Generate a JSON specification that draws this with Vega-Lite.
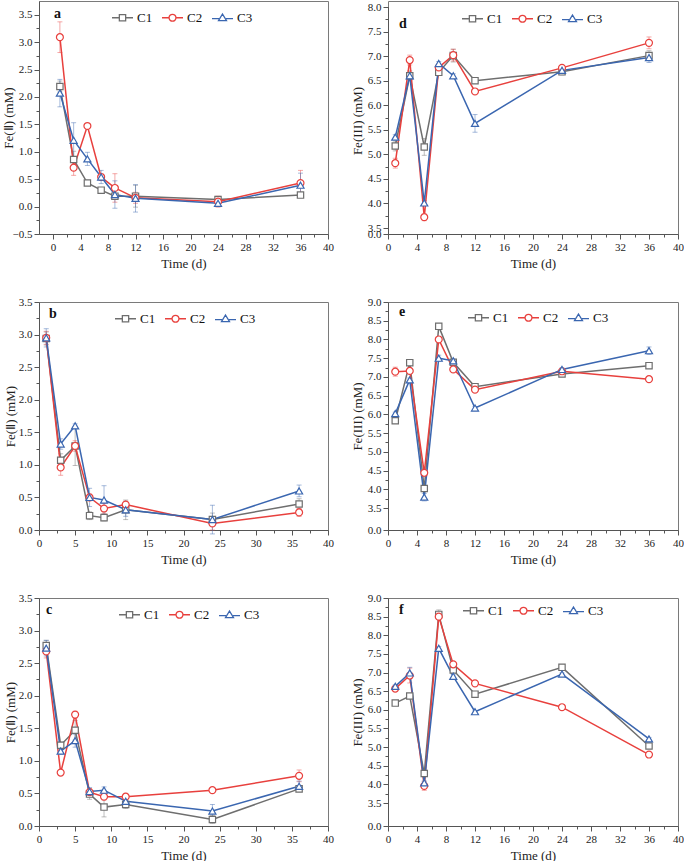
{
  "$schema": "https://vega.github.io/schema/vega-lite/v6.json",
  "padding": {"left": 1, "top": 0, "right": 0, "bottom": 0},
  "config": {
    "font": "Liberation Serif",
    "view": {"stroke": "#7a7a7a", "strokeWidth": 1},
    "axis": {
      "grid": false, "labelFont": "Liberation Serif", "labelFontSize": 11, "labelColor": "#222",
      "titleFont": "Liberation Serif", "titleFontSize": 13, "titleFontWeight": "normal", "titleColor": "#222",
      "domainColor": "#555", "tickColor": "#555", "labelFlush": false, "labelOverlap": false, "labelPadding": 2
    },
    "axisX": {"titlePadding": 5},
    "legend": {
      "orient": "none", "direction": "horizontal", "symbolSize": 441, "symbolStrokeWidth": 1.3,
      "labelFont": "Liberation Serif", "labelFontSize": 13, "labelColor": "#111", "labelOffset": 3,
      "columnPadding": 6, "padding": 0, "symbolFillColor": "white", "symbolOpacity": 1
    },
    "title": {"font": "Liberation Serif", "fontSize": 14, "fontWeight": "bold", "color": "#111", "anchor": "start", "frame": "group", "baseline": "alphabetic"}
  },
  "datasets": {
    "fe": [
      {"p":"a","s":"C1","t":1,"v":2.19,"e":0.1},{"p":"a","s":"C1","t":3,"v":0.86,"e":0.15},{"p":"a","s":"C1","t":5,"v":0.43,"e":0.04},{"p":"a","s":"C1","t":7,"v":0.30,"e":0.02},{"p":"a","s":"C1","t":9,"v":0.19,"e":0.05},{"p":"a","s":"C1","t":12,"v":0.19,"e":0.2},{"p":"a","s":"C1","t":24,"v":0.13,"e":0.05},{"p":"a","s":"C1","t":36,"v":0.21,"e":0.02},
      {"p":"a","s":"C2","t":1,"v":3.09,"e":0.28},{"p":"a","s":"C2","t":3,"v":0.71,"e":0.14},{"p":"a","s":"C2","t":5,"v":1.47,"e":0.03},{"p":"a","s":"C2","t":7,"v":0.54,"e":0.05},{"p":"a","s":"C2","t":9,"v":0.34,"e":0.26},{"p":"a","s":"C2","t":12,"v":0.16,"e":0.1},{"p":"a","s":"C2","t":24,"v":0.09,"e":0.1},{"p":"a","s":"C2","t":36,"v":0.43,"e":0.23},
      {"p":"a","s":"C3","t":1,"v":2.07,"e":0.25},{"p":"a","s":"C3","t":3,"v":1.21,"e":0.32},{"p":"a","s":"C3","t":5,"v":0.87,"e":0.12},{"p":"a","s":"C3","t":7,"v":0.54,"e":0.12},{"p":"a","s":"C3","t":9,"v":0.22,"e":0.25},{"p":"a","s":"C3","t":12,"v":0.15,"e":0.25},{"p":"a","s":"C3","t":24,"v":0.06,"e":0.05},{"p":"a","s":"C3","t":36,"v":0.39,"e":0.22},

      {"p":"b","s":"C1","t":1,"v":2.94,"e":0.1},{"p":"b","s":"C1","t":3,"v":1.07,"e":0.1},{"p":"b","s":"C1","t":5,"v":1.29,"e":0.3},{"p":"b","s":"C1","t":7,"v":0.22,"e":0.06},{"p":"b","s":"C1","t":9,"v":0.19,"e":0.05},{"p":"b","s":"C1","t":12,"v":0.31,"e":0.15},{"p":"b","s":"C1","t":24,"v":0.16,"e":0.1},{"p":"b","s":"C1","t":36,"v":0.40,"e":0.08},
      {"p":"b","s":"C2","t":1,"v":2.95,"e":0.1},{"p":"b","s":"C2","t":3,"v":0.96,"e":0.12},{"p":"b","s":"C2","t":5,"v":1.29,"e":0.08},{"p":"b","s":"C2","t":7,"v":0.50,"e":0.05},{"p":"b","s":"C2","t":9,"v":0.33,"e":0.08},{"p":"b","s":"C2","t":12,"v":0.39,"e":0.05},{"p":"b","s":"C2","t":24,"v":0.10,"e":0.1},{"p":"b","s":"C2","t":36,"v":0.27,"e":0.06},
      {"p":"b","s":"C3","t":1,"v":2.95,"e":0.14},{"p":"b","s":"C3","t":3,"v":1.32,"e":0.08},{"p":"b","s":"C3","t":5,"v":1.60,"e":0.03},{"p":"b","s":"C3","t":7,"v":0.50,"e":0.14},{"p":"b","s":"C3","t":9,"v":0.46,"e":0.22},{"p":"b","s":"C3","t":12,"v":0.31,"e":0.1},{"p":"b","s":"C3","t":24,"v":0.16,"e":0.22},{"p":"b","s":"C3","t":36,"v":0.60,"e":0.09},

      {"p":"c","s":"C1","t":1,"v":2.77,"e":0.08},{"p":"c","s":"C1","t":3,"v":1.24,"e":0.05},{"p":"c","s":"C1","t":5,"v":1.47,"e":0.15},{"p":"c","s":"C1","t":7,"v":0.49,"e":0.08},{"p":"c","s":"C1","t":9,"v":0.29,"e":0.15},{"p":"c","s":"C1","t":12,"v":0.33,"e":0.06},{"p":"c","s":"C1","t":24,"v":0.10,"e":0.06},{"p":"c","s":"C1","t":36,"v":0.57,"e":0.04},
      {"p":"c","s":"C2","t":1,"v":2.68,"e":0.1},{"p":"c","s":"C2","t":3,"v":0.82,"e":0.03},{"p":"c","s":"C2","t":5,"v":1.71,"e":0.05},{"p":"c","s":"C2","t":7,"v":0.52,"e":0.05},{"p":"c","s":"C2","t":9,"v":0.45,"e":0.05},{"p":"c","s":"C2","t":12,"v":0.45,"e":0.05},{"p":"c","s":"C2","t":24,"v":0.55,"e":0.03},{"p":"c","s":"C2","t":36,"v":0.77,"e":0.09},
      {"p":"c","s":"C3","t":1,"v":2.73,"e":0.12},{"p":"c","s":"C3","t":3,"v":1.15,"e":0.05},{"p":"c","s":"C3","t":5,"v":1.31,"e":0.1},{"p":"c","s":"C3","t":7,"v":0.53,"e":0.06},{"p":"c","s":"C3","t":9,"v":0.55,"e":0.05},{"p":"c","s":"C3","t":12,"v":0.38,"e":0.08},{"p":"c","s":"C3","t":24,"v":0.23,"e":0.1},{"p":"c","s":"C3","t":36,"v":0.61,"e":0.08},

      {"p":"d","s":"C1","t":1,"v":5.17,"e":0.1},{"p":"d","s":"C1","t":3,"v":6.60,"e":0.1},{"p":"d","s":"C1","t":5,"v":5.15,"e":0.17},{"p":"d","s":"C1","t":7,"v":6.67,"e":0.05},{"p":"d","s":"C1","t":9,"v":7.01,"e":0.13},{"p":"d","s":"C1","t":12,"v":6.50,"e":0.03},{"p":"d","s":"C1","t":24,"v":6.68,"e":0.06},{"p":"d","s":"C1","t":36,"v":7.01,"e":0.1},
      {"p":"d","s":"C2","t":1,"v":4.82,"e":0.1},{"p":"d","s":"C2","t":3,"v":6.92,"e":0.1},{"p":"d","s":"C2","t":5,"v":3.72,"e":0.07},{"p":"d","s":"C2","t":7,"v":6.77,"e":0.05},{"p":"d","s":"C2","t":9,"v":7.02,"e":0.12},{"p":"d","s":"C2","t":12,"v":6.28,"e":0.03},{"p":"d","s":"C2","t":24,"v":6.76,"e":0.04},{"p":"d","s":"C2","t":36,"v":7.27,"e":0.12},
      {"p":"d","s":"C3","t":1,"v":5.35,"e":0.05},{"p":"d","s":"C3","t":3,"v":6.60,"e":0.06},{"p":"d","s":"C3","t":5,"v":4.01,"e":0.05},{"p":"d","s":"C3","t":7,"v":6.85,"e":0.04},{"p":"d","s":"C3","t":9,"v":6.60,"e":0.04},{"p":"d","s":"C3","t":12,"v":5.63,"e":0.18},{"p":"d","s":"C3","t":24,"v":6.71,"e":0.07},{"p":"d","s":"C3","t":36,"v":6.97,"e":0.1},

      {"p":"e","s":"C1","t":1,"v":5.83,"e":0.04},{"p":"e","s":"C1","t":3,"v":7.38,"e":0.04},{"p":"e","s":"C1","t":5,"v":4.02,"e":0.05},{"p":"e","s":"C1","t":7,"v":8.35,"e":0.05},{"p":"e","s":"C1","t":9,"v":7.39,"e":0.04},{"p":"e","s":"C1","t":12,"v":6.74,"e":0.03},{"p":"e","s":"C1","t":24,"v":7.08,"e":0.03},{"p":"e","s":"C1","t":36,"v":7.30,"e":0.04},
      {"p":"e","s":"C2","t":1,"v":7.14,"e":0.12},{"p":"e","s":"C2","t":3,"v":7.16,"e":0.05},{"p":"e","s":"C2","t":5,"v":4.44,"e":0.08},{"p":"e","s":"C2","t":7,"v":8.00,"e":0.05},{"p":"e","s":"C2","t":9,"v":7.20,"e":0.04},{"p":"e","s":"C2","t":12,"v":6.66,"e":0.03},{"p":"e","s":"C2","t":24,"v":7.15,"e":0.03},{"p":"e","s":"C2","t":36,"v":6.94,"e":0.04},
      {"p":"e","s":"C3","t":1,"v":6.02,"e":0.04},{"p":"e","s":"C3","t":3,"v":6.92,"e":0.05},{"p":"e","s":"C3","t":5,"v":3.79,"e":0.1},{"p":"e","s":"C3","t":7,"v":7.50,"e":0.08},{"p":"e","s":"C3","t":9,"v":7.43,"e":0.04},{"p":"e","s":"C3","t":12,"v":6.17,"e":0.04},{"p":"e","s":"C3","t":24,"v":7.20,"e":0.04},{"p":"e","s":"C3","t":36,"v":7.70,"e":0.1},

      {"p":"f","s":"C1","t":1,"v":6.18,"e":0.03},{"p":"f","s":"C1","t":3,"v":6.37,"e":0.03},{"p":"f","s":"C1","t":5,"v":4.29,"e":0.08},{"p":"f","s":"C1","t":7,"v":8.56,"e":0.12},{"p":"f","s":"C1","t":9,"v":7.07,"e":0.04},{"p":"f","s":"C1","t":12,"v":6.42,"e":0.03},{"p":"f","s":"C1","t":24,"v":7.14,"e":0.03},{"p":"f","s":"C1","t":36,"v":5.03,"e":0.04},
      {"p":"f","s":"C2","t":1,"v":6.57,"e":0.05},{"p":"f","s":"C2","t":3,"v":6.92,"e":0.2},{"p":"f","s":"C2","t":5,"v":3.96,"e":0.12},{"p":"f","s":"C2","t":7,"v":8.50,"e":0.05},{"p":"f","s":"C2","t":9,"v":7.22,"e":0.04},{"p":"f","s":"C2","t":12,"v":6.71,"e":0.03},{"p":"f","s":"C2","t":24,"v":6.07,"e":0.03},{"p":"f","s":"C2","t":36,"v":4.80,"e":0.03},
      {"p":"f","s":"C3","t":1,"v":6.63,"e":0.04},{"p":"f","s":"C3","t":3,"v":6.99,"e":0.15},{"p":"f","s":"C3","t":5,"v":4.04,"e":0.05},{"p":"f","s":"C3","t":7,"v":7.65,"e":0.05},{"p":"f","s":"C3","t":9,"v":6.90,"e":0.04},{"p":"f","s":"C3","t":12,"v":5.95,"e":0.03},{"p":"f","s":"C3","t":24,"v":6.96,"e":0.03},{"p":"f","s":"C3","t":36,"v":5.22,"e":0.04}
    ]
  },
  "data": {"name": "fe"},
  "columns": 2,
  "bounds": "flush",
  "spacing": {"row": 68, "column": 60},
  "resolve": {"scale": {"color": "independent", "shape": "independent"}, "legend": {"color": "independent", "shape": "independent"}},
  "concat": [
    {
      "width": 289, "height": 233,
      "title": {"text": "a", "offset": -20, "dx": 15},
      "transform": [{"filter": "datum.p === 'a'"}],
      "encoding": {
        "x": {"field": "t", "type": "quantitative", "title": "Time (d)", "scale": {"domain": [-2.04, 40], "nice": false, "zero": false},
          "axis": {"values": [0,2,4,6,8,10,12,14,16,18,20,22,24,26,28,30,32,34,36,38,40], "labelExpr": "datum.value % 4 === 0 ? datum.label : ''", "tickSize": {"condition": {"test": "datum.value % 4 === 0", "value": 5}, "value": 3}}},
        "y": {"field": "v", "type": "quantitative", "title": "Fe(Ⅱ) (mM)", "scale": {"domain": [-0.5, 3.75], "nice": false, "zero": false},
          "axis": {"values": [-0.5,-0.25,0,0.25,0.5,0.75,1,1.25,1.5,1.75,2,2.25,2.5,2.75,3,3.25,3.5], "labelExpr": "(datum.value*2) % 1 === 0 ? format(datum.value, '.1f') : ''", "tickSize": {"condition": {"test": "(datum.value*2) % 1 === 0", "value": 5}, "value": 3}, "titlePadding": -3}},
        "color": {"field": "s", "type": "nominal", "scale": {"domain": ["C1","C2","C3"], "range": ["#6e6e6e","#e8403d","#3a66b0"]}, "legend": {"title": null, "legendX": 72, "legendY": 5}}
      },
      "layer": [
        {"transform": [{"filter": "datum.s === 'C1'"}], "mark": {"type": "errorbar", "ticks": {"size": 5}, "opacity": 0.45}, "encoding": {"yError": {"field": "e"}, "color": {"value": "#6e6e6e"}}},
        {"transform": [{"filter": "datum.s === 'C2'"}], "mark": {"type": "errorbar", "ticks": {"size": 5}, "opacity": 0.45}, "encoding": {"yError": {"field": "e"}, "color": {"value": "#e8403d"}}},
        {"transform": [{"filter": "datum.s === 'C3'"}], "mark": {"type": "errorbar", "ticks": {"size": 5}, "opacity": 0.45}, "encoding": {"yError": {"field": "e"}, "color": {"value": "#3a66b0"}}},
        {"mark": {"type": "line", "strokeWidth": 1.5}},
        {"transform": [{"filter": "datum.s === 'C1'"}], "mark": {"type": "point", "shape": "square", "filled": false, "fill": "white", "fillOpacity": 1, "size": 40, "strokeWidth": 1.2, "opacity": 1}},
        {"transform": [{"filter": "datum.s === 'C2'"}], "mark": {"type": "point", "shape": "circle", "filled": false, "fill": "white", "fillOpacity": 1, "size": 48, "strokeWidth": 1.2, "opacity": 1}},
        {"transform": [{"filter": "datum.s === 'C3'"}], "mark": {"type": "point", "shape": "triangle-up", "filled": false, "fill": "white", "fillOpacity": 1, "size": 50, "strokeWidth": 1.2, "opacity": 1}},
        {"transform": [{"filter": "datum.t > 1000"}], "mark": {"type": "point", "filled": false, "strokeWidth": 1.3, "opacity": 1},
          "encoding": {"shape": {"field": "s", "type": "nominal", "scale": {"domain": ["C1","C2","C3"], "range": ["M-1,0H-0.3M0.3,0H1M-0.3,-0.3H0.3V0.3H-0.3Z", "M-1,0H-0.33M0.33,0H1M0.33,0A0.33,0.33,0,1,1,-0.33,0A0.33,0.33,0,1,1,0.33,0Z", "M-1,0.08H-0.33M0.33,0.08H1M0,-0.36L0.38,0.28H-0.38Z"]}, "legend": {"title": null, "legendX": 72, "legendY": 5}}}}
      ]
    },
    {
      "width": 290, "height": 233,
      "title": {"text": "d", "offset": -30, "dx": 11},
      "transform": [{"filter": "datum.p === 'd'"}],
      "encoding": {
        "x": {"field": "t", "type": "quantitative", "title": "Time (d)", "scale": {"domain": [0, 40], "nice": false, "zero": false},
          "axis": {"values": [0,2,4,6,8,10,12,14,16,18,20,22,24,26,28,30,32,34,36,38,40], "labelExpr": "datum.value % 4 === 0 ? datum.label : ''", "tickSize": {"condition": {"test": "datum.value % 4 === 0", "value": 5}, "value": 3}}},
        "y": {"field": "v", "type": "quantitative", "title": "Fe(III) (mM)", "scale": {"domain": [0, 3.5, 8], "range": [233, 227, 6], "nice": false, "zero": false},
          "axis": {"values": [0,3.5,3.75,4,4.25,4.5,4.75,5,5.25,5.5,5.75,6,6.25,6.5,6.75,7,7.25,7.5,7.75,8], "labelExpr": "(datum.value*2) % 1 === 0 ? format(datum.value, '.1f') : ''", "tickSize": {"condition": {"test": "(datum.value*2) % 1 === 0", "value": 5}, "value": 3}, "titlePadding": 3}},
        "color": {"field": "s", "type": "nominal", "scale": {"domain": ["C1","C2","C3"], "range": ["#6e6e6e","#e8403d","#3a66b0"]}, "legend": {"title": null, "legendX": 73, "legendY": 6}}
      },
      "layer": [
        {"transform": [{"filter": "datum.s === 'C1'"}], "mark": {"type": "errorbar", "ticks": {"size": 5}, "opacity": 0.45}, "encoding": {"yError": {"field": "e"}, "color": {"value": "#6e6e6e"}}},
        {"transform": [{"filter": "datum.s === 'C2'"}], "mark": {"type": "errorbar", "ticks": {"size": 5}, "opacity": 0.45}, "encoding": {"yError": {"field": "e"}, "color": {"value": "#e8403d"}}},
        {"transform": [{"filter": "datum.s === 'C3'"}], "mark": {"type": "errorbar", "ticks": {"size": 5}, "opacity": 0.45}, "encoding": {"yError": {"field": "e"}, "color": {"value": "#3a66b0"}}},
        {"mark": {"type": "line", "strokeWidth": 1.5}},
        {"transform": [{"filter": "datum.s === 'C1'"}], "mark": {"type": "point", "shape": "square", "filled": false, "fill": "white", "fillOpacity": 1, "size": 40, "strokeWidth": 1.2, "opacity": 1}},
        {"transform": [{"filter": "datum.s === 'C2'"}], "mark": {"type": "point", "shape": "circle", "filled": false, "fill": "white", "fillOpacity": 1, "size": 48, "strokeWidth": 1.2, "opacity": 1}},
        {"transform": [{"filter": "datum.s === 'C3'"}], "mark": {"type": "point", "shape": "triangle-up", "filled": false, "fill": "white", "fillOpacity": 1, "size": 50, "strokeWidth": 1.2, "opacity": 1}},
        {"transform": [{"filter": "datum.t > 1000"}], "mark": {"type": "point", "filled": false, "strokeWidth": 1.3, "opacity": 1},
          "encoding": {"shape": {"field": "s", "type": "nominal", "scale": {"domain": ["C1","C2","C3"], "range": ["M-1,0H-0.3M0.3,0H1M-0.3,-0.3H0.3V0.3H-0.3Z", "M-1,0H-0.33M0.33,0H1M0.33,0A0.33,0.33,0,1,1,-0.33,0A0.33,0.33,0,1,1,0.33,0Z", "M-1,0.08H-0.33M0.33,0.08H1M0,-0.36L0.38,0.28H-0.38Z"]}, "legend": {"title": null, "legendX": 73, "legendY": 6}}}}
      ]
    },
    {
      "width": 289, "height": 228,
      "title": {"text": "b", "offset": -25, "dx": 10},
      "transform": [{"filter": "datum.p === 'b'"}],
      "encoding": {
        "x": {"field": "t", "type": "quantitative", "title": "Time (d)", "scale": {"domain": [0, 40], "nice": false, "zero": false},
          "axis": {"values": [0,2.5,5,7.5,10,12.5,15,17.5,20,22.5,25,27.5,30,32.5,35,37.5,40], "labelExpr": "datum.value % 5 === 0 ? datum.label : ''", "tickSize": {"condition": {"test": "datum.value % 5 === 0", "value": 5}, "value": 3}}},
        "y": {"field": "v", "type": "quantitative", "title": "Fe(Ⅱ) (mM)", "scale": {"domain": [0, 3.5], "nice": false, "zero": false},
          "axis": {"values": [0,0.25,0.5,0.75,1,1.25,1.5,1.75,2,2.25,2.5,2.75,3,3.25,3.5], "labelExpr": "(datum.value*2) % 1 === 0 ? format(datum.value, '.1f') : ''", "tickSize": {"condition": {"test": "(datum.value*2) % 1 === 0", "value": 5}, "value": 3}, "titlePadding": 1}},
        "color": {"field": "s", "type": "nominal", "scale": {"domain": ["C1","C2","C3"], "range": ["#6e6e6e","#e8403d","#3a66b0"]}, "legend": {"title": null, "legendX": 75, "legendY": 5}}
      },
      "layer": [
        {"transform": [{"filter": "datum.s === 'C1'"}], "mark": {"type": "errorbar", "ticks": {"size": 5}, "opacity": 0.45}, "encoding": {"yError": {"field": "e"}, "color": {"value": "#6e6e6e"}}},
        {"transform": [{"filter": "datum.s === 'C2'"}], "mark": {"type": "errorbar", "ticks": {"size": 5}, "opacity": 0.45}, "encoding": {"yError": {"field": "e"}, "color": {"value": "#e8403d"}}},
        {"transform": [{"filter": "datum.s === 'C3'"}], "mark": {"type": "errorbar", "ticks": {"size": 5}, "opacity": 0.45}, "encoding": {"yError": {"field": "e"}, "color": {"value": "#3a66b0"}}},
        {"mark": {"type": "line", "strokeWidth": 1.5}},
        {"transform": [{"filter": "datum.s === 'C1'"}], "mark": {"type": "point", "shape": "square", "filled": false, "fill": "white", "fillOpacity": 1, "size": 40, "strokeWidth": 1.2, "opacity": 1}},
        {"transform": [{"filter": "datum.s === 'C2'"}], "mark": {"type": "point", "shape": "circle", "filled": false, "fill": "white", "fillOpacity": 1, "size": 48, "strokeWidth": 1.2, "opacity": 1}},
        {"transform": [{"filter": "datum.s === 'C3'"}], "mark": {"type": "point", "shape": "triangle-up", "filled": false, "fill": "white", "fillOpacity": 1, "size": 50, "strokeWidth": 1.2, "opacity": 1}},
        {"transform": [{"filter": "datum.t > 1000"}], "mark": {"type": "point", "filled": false, "strokeWidth": 1.3, "opacity": 1},
          "encoding": {"shape": {"field": "s", "type": "nominal", "scale": {"domain": ["C1","C2","C3"], "range": ["M-1,0H-0.3M0.3,0H1M-0.3,-0.3H0.3V0.3H-0.3Z", "M-1,0H-0.33M0.33,0H1M0.33,0A0.33,0.33,0,1,1,-0.33,0A0.33,0.33,0,1,1,0.33,0Z", "M-1,0.08H-0.33M0.33,0.08H1M0,-0.36L0.38,0.28H-0.38Z"]}, "legend": {"title": null, "legendX": 75, "legendY": 5}}}}
      ]
    },
    {
      "width": 290, "height": 228,
      "title": {"text": "e", "offset": -23, "dx": 11},
      "transform": [{"filter": "datum.p === 'e'"}],
      "encoding": {
        "x": {"field": "t", "type": "quantitative", "title": "Time (d)", "scale": {"domain": [0, 40], "nice": false, "zero": false},
          "axis": {"values": [0,2,4,6,8,10,12,14,16,18,20,22,24,26,28,30,32,34,36,38,40], "labelExpr": "datum.value % 4 === 0 ? datum.label : ''", "tickSize": {"condition": {"test": "datum.value % 4 === 0", "value": 5}, "value": 3}}},
        "y": {"field": "v", "type": "quantitative", "title": "Fe(III) (mM)", "scale": {"domain": [0, 3.5, 9], "range": [228, 206, 0], "nice": false, "zero": false},
          "axis": {"values": [0,3.5,3.75,4,4.25,4.5,4.75,5,5.25,5.5,5.75,6,6.25,6.5,6.75,7,7.25,7.5,7.75,8,8.25,8.5,8.75,9], "labelExpr": "(datum.value*2) % 1 === 0 ? format(datum.value, '.1f') : ''", "tickSize": {"condition": {"test": "(datum.value*2) % 1 === 0", "value": 5}, "value": 3}, "titlePadding": 3}},
        "color": {"field": "s", "type": "nominal", "scale": {"domain": ["C1","C2","C3"], "range": ["#6e6e6e","#e8403d","#3a66b0"]}, "legend": {"title": null, "legendX": 79, "legendY": 4}}
      },
      "layer": [
        {"transform": [{"filter": "datum.s === 'C1'"}], "mark": {"type": "errorbar", "ticks": {"size": 5}, "opacity": 0.45}, "encoding": {"yError": {"field": "e"}, "color": {"value": "#6e6e6e"}}},
        {"transform": [{"filter": "datum.s === 'C2'"}], "mark": {"type": "errorbar", "ticks": {"size": 5}, "opacity": 0.45}, "encoding": {"yError": {"field": "e"}, "color": {"value": "#e8403d"}}},
        {"transform": [{"filter": "datum.s === 'C3'"}], "mark": {"type": "errorbar", "ticks": {"size": 5}, "opacity": 0.45}, "encoding": {"yError": {"field": "e"}, "color": {"value": "#3a66b0"}}},
        {"mark": {"type": "line", "strokeWidth": 1.5}},
        {"transform": [{"filter": "datum.s === 'C1'"}], "mark": {"type": "point", "shape": "square", "filled": false, "fill": "white", "fillOpacity": 1, "size": 40, "strokeWidth": 1.2, "opacity": 1}},
        {"transform": [{"filter": "datum.s === 'C2'"}], "mark": {"type": "point", "shape": "circle", "filled": false, "fill": "white", "fillOpacity": 1, "size": 48, "strokeWidth": 1.2, "opacity": 1}},
        {"transform": [{"filter": "datum.s === 'C3'"}], "mark": {"type": "point", "shape": "triangle-up", "filled": false, "fill": "white", "fillOpacity": 1, "size": 50, "strokeWidth": 1.2, "opacity": 1}},
        {"transform": [{"filter": "datum.t > 1000"}], "mark": {"type": "point", "filled": false, "strokeWidth": 1.3, "opacity": 1},
          "encoding": {"shape": {"field": "s", "type": "nominal", "scale": {"domain": ["C1","C2","C3"], "range": ["M-1,0H-0.3M0.3,0H1M-0.3,-0.3H0.3V0.3H-0.3Z", "M-1,0H-0.33M0.33,0H1M0.33,0A0.33,0.33,0,1,1,-0.33,0A0.33,0.33,0,1,1,0.33,0Z", "M-1,0.08H-0.33M0.33,0.08H1M0,-0.36L0.38,0.28H-0.38Z"]}, "legend": {"title": null, "legendX": 79, "legendY": 4}}}}
      ]
    },
    {
      "width": 289, "height": 228,
      "title": {"text": "c", "offset": -25, "dx": 7},
      "transform": [{"filter": "datum.p === 'c'"}],
      "encoding": {
        "x": {"field": "t", "type": "quantitative", "title": "Time (d)", "scale": {"domain": [0, 40], "nice": false, "zero": false},
          "axis": {"values": [0,2.5,5,7.5,10,12.5,15,17.5,20,22.5,25,27.5,30,32.5,35,37.5,40], "labelExpr": "datum.value % 5 === 0 ? datum.label : ''", "tickSize": {"condition": {"test": "datum.value % 5 === 0", "value": 5}, "value": 3}}},
        "y": {"field": "v", "type": "quantitative", "title": "Fe(Ⅱ) (mM)", "scale": {"domain": [0, 3.5], "nice": false, "zero": false},
          "axis": {"values": [0,0.25,0.5,0.75,1,1.25,1.5,1.75,2,2.25,2.5,2.75,3,3.25,3.5], "labelExpr": "(datum.value*2) % 1 === 0 ? format(datum.value, '.1f') : ''", "tickSize": {"condition": {"test": "(datum.value*2) % 1 === 0", "value": 5}, "value": 3}, "titlePadding": 1}},
        "color": {"field": "s", "type": "nominal", "scale": {"domain": ["C1","C2","C3"], "range": ["#6e6e6e","#e8403d","#3a66b0"]}, "legend": {"title": null, "legendX": 79, "legendY": 5}}
      },
      "layer": [
        {"transform": [{"filter": "datum.s === 'C1'"}], "mark": {"type": "errorbar", "ticks": {"size": 5}, "opacity": 0.45}, "encoding": {"yError": {"field": "e"}, "color": {"value": "#6e6e6e"}}},
        {"transform": [{"filter": "datum.s === 'C2'"}], "mark": {"type": "errorbar", "ticks": {"size": 5}, "opacity": 0.45}, "encoding": {"yError": {"field": "e"}, "color": {"value": "#e8403d"}}},
        {"transform": [{"filter": "datum.s === 'C3'"}], "mark": {"type": "errorbar", "ticks": {"size": 5}, "opacity": 0.45}, "encoding": {"yError": {"field": "e"}, "color": {"value": "#3a66b0"}}},
        {"mark": {"type": "line", "strokeWidth": 1.5}},
        {"transform": [{"filter": "datum.s === 'C1'"}], "mark": {"type": "point", "shape": "square", "filled": false, "fill": "white", "fillOpacity": 1, "size": 40, "strokeWidth": 1.2, "opacity": 1}},
        {"transform": [{"filter": "datum.s === 'C2'"}], "mark": {"type": "point", "shape": "circle", "filled": false, "fill": "white", "fillOpacity": 1, "size": 48, "strokeWidth": 1.2, "opacity": 1}},
        {"transform": [{"filter": "datum.s === 'C3'"}], "mark": {"type": "point", "shape": "triangle-up", "filled": false, "fill": "white", "fillOpacity": 1, "size": 50, "strokeWidth": 1.2, "opacity": 1}},
        {"transform": [{"filter": "datum.t > 1000"}], "mark": {"type": "point", "filled": false, "strokeWidth": 1.3, "opacity": 1},
          "encoding": {"shape": {"field": "s", "type": "nominal", "scale": {"domain": ["C1","C2","C3"], "range": ["M-1,0H-0.3M0.3,0H1M-0.3,-0.3H0.3V0.3H-0.3Z", "M-1,0H-0.33M0.33,0H1M0.33,0A0.33,0.33,0,1,1,-0.33,0A0.33,0.33,0,1,1,0.33,0Z", "M-1,0.08H-0.33M0.33,0.08H1M0,-0.36L0.38,0.28H-0.38Z"]}, "legend": {"title": null, "legendX": 79, "legendY": 5}}}}
      ]
    },
    {
      "width": 290, "height": 228,
      "title": {"text": "f", "offset": -25, "dx": 11},
      "transform": [{"filter": "datum.p === 'f'"}],
      "encoding": {
        "x": {"field": "t", "type": "quantitative", "title": "Time (d)", "scale": {"domain": [0, 40], "nice": false, "zero": false},
          "axis": {"values": [0,2,4,6,8,10,12,14,16,18,20,22,24,26,28,30,32,34,36,38,40], "labelExpr": "datum.value % 4 === 0 ? datum.label : ''", "tickSize": {"condition": {"test": "datum.value % 4 === 0", "value": 5}, "value": 3}}},
        "y": {"field": "v", "type": "quantitative", "title": "Fe(III) (mM)", "scale": {"domain": [0, 3.5, 9], "range": [228, 205, 0], "nice": false, "zero": false},
          "axis": {"values": [0,3.5,3.75,4,4.25,4.5,4.75,5,5.25,5.5,5.75,6,6.25,6.5,6.75,7,7.25,7.5,7.75,8,8.25,8.5,8.75,9], "labelExpr": "(datum.value*2) % 1 === 0 ? format(datum.value, '.1f') : ''", "tickSize": {"condition": {"test": "(datum.value*2) % 1 === 0", "value": 5}, "value": 3}, "titlePadding": 3}},
        "color": {"field": "s", "type": "nominal", "scale": {"domain": ["C1","C2","C3"], "range": ["#6e6e6e","#e8403d","#3a66b0"]}, "legend": {"title": null, "legendX": 74, "legendY": 1}}
      },
      "layer": [
        {"transform": [{"filter": "datum.s === 'C1'"}], "mark": {"type": "errorbar", "ticks": {"size": 5}, "opacity": 0.45}, "encoding": {"yError": {"field": "e"}, "color": {"value": "#6e6e6e"}}},
        {"transform": [{"filter": "datum.s === 'C2'"}], "mark": {"type": "errorbar", "ticks": {"size": 5}, "opacity": 0.45}, "encoding": {"yError": {"field": "e"}, "color": {"value": "#e8403d"}}},
        {"transform": [{"filter": "datum.s === 'C3'"}], "mark": {"type": "errorbar", "ticks": {"size": 5}, "opacity": 0.45}, "encoding": {"yError": {"field": "e"}, "color": {"value": "#3a66b0"}}},
        {"mark": {"type": "line", "strokeWidth": 1.5}},
        {"transform": [{"filter": "datum.s === 'C1'"}], "mark": {"type": "point", "shape": "square", "filled": false, "fill": "white", "fillOpacity": 1, "size": 40, "strokeWidth": 1.2, "opacity": 1}},
        {"transform": [{"filter": "datum.s === 'C2'"}], "mark": {"type": "point", "shape": "circle", "filled": false, "fill": "white", "fillOpacity": 1, "size": 48, "strokeWidth": 1.2, "opacity": 1}},
        {"transform": [{"filter": "datum.s === 'C3'"}], "mark": {"type": "point", "shape": "triangle-up", "filled": false, "fill": "white", "fillOpacity": 1, "size": 50, "strokeWidth": 1.2, "opacity": 1}},
        {"transform": [{"filter": "datum.t > 1000"}], "mark": {"type": "point", "filled": false, "strokeWidth": 1.3, "opacity": 1},
          "encoding": {"shape": {"field": "s", "type": "nominal", "scale": {"domain": ["C1","C2","C3"], "range": ["M-1,0H-0.3M0.3,0H1M-0.3,-0.3H0.3V0.3H-0.3Z", "M-1,0H-0.33M0.33,0H1M0.33,0A0.33,0.33,0,1,1,-0.33,0A0.33,0.33,0,1,1,0.33,0Z", "M-1,0.08H-0.33M0.33,0.08H1M0,-0.36L0.38,0.28H-0.38Z"]}, "legend": {"title": null, "legendX": 74, "legendY": 1}}}}
      ]
    }
  ]
}
